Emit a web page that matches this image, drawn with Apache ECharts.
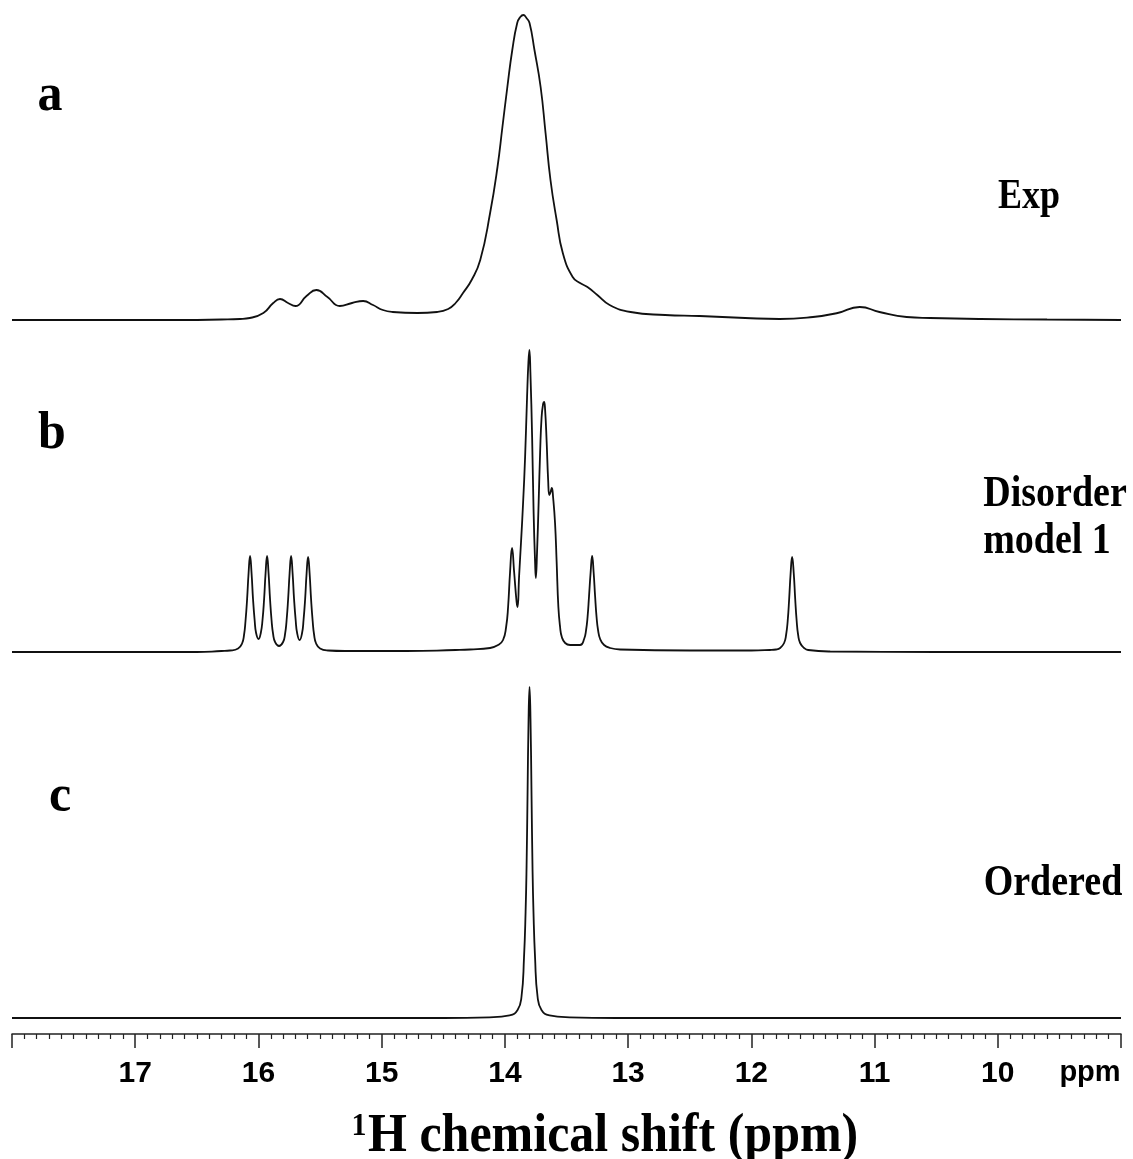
<!DOCTYPE html>
<html>
<head>
<meta charset="utf-8">
<title>1H NMR</title>
<script src="https://cdn.jsdelivr.net/npm/echarts@6/dist/echarts.min.js"></script>
<style>
  html, body {margin: 0; padding: 0; background: #fff;}
  #chart {width: 1133px; height: 1159px;}
</style>
</head>
<body>
<div id="chart"></div>
<script>
// [ppm, intensity], intensity in arbitrary units
let traceExp = [
  [18.00, 0], [16.60, 0], [16.30, 0.5], [16.15, 1], [16.07, 2], [15.96, 7], [15.88, 17], [15.825, 21],
  [15.76, 17], [15.70, 14], [15.61, 24], [15.53, 30], [15.44, 23], [15.34, 14], [15.24, 17], [15.15, 19],
  [15.07, 15], [14.99, 10], [14.91, 8], [14.71, 7], [14.55, 8], [14.46, 11], [14.40, 17], [14.34, 27],
  [14.27, 40], [14.20, 60], [14.12, 107], [14.06, 153], [14.02, 193], [13.98, 233], [13.94, 270],
  [13.90, 297], [13.875, 303], [13.85, 305], [13.825, 302], [13.80, 297], [13.76, 270], [13.71, 233],
  [13.67, 187], [13.63, 140], [13.58, 100], [13.53, 67], [13.45, 43], [13.39, 37], [13.33, 33],
  [13.25, 25], [13.15, 15], [12.98, 8], [12.70, 5], [12.42, 4], [12.05, 2], [11.77, 1], [11.50, 3],
  [11.30, 7], [11.12, 13], [10.96, 8], [10.74, 3], [10.55, 2], [10.14, 1], [9.60, 0.5], [9.00, 0]
];

let traceDisorder = [
  [18.00, 0], [16.50, 0], [16.30, 1], [16.23, 1.5], [16.165, 3.5], [16.133, 8.5], [16.117, 17],
  [16.105, 31], [16.092, 53], [16.080, 79], [16.068, 96], [16.056, 79], [16.044, 53], [16.031, 32],
  [16.019, 19], [15.999, 13], [15.981, 19], [15.967, 32], [15.954, 53], [15.942, 79], [15.930, 96],
  [15.918, 79], [15.906, 53], [15.893, 31], [15.881, 18], [15.865, 10], [15.833, 6], [15.800, 10],
  [15.784, 18], [15.772, 31], [15.759, 53], [15.747, 79], [15.735, 96], [15.723, 79], [15.711, 53],
  [15.698, 32], [15.686, 19], [15.666, 12], [15.646, 19], [15.634, 32], [15.621, 53], [15.609, 79],
  [15.597, 95], [15.585, 79], [15.573, 53], [15.560, 31], [15.548, 17], [15.532, 8.5], [15.500, 3.5],
  [15.435, 1.5], [15.30, 1], [14.80, 1], [14.40, 2], [14.282, 2.5], [14.120, 4], [14.055, 7],
  [14.015, 12], [13.990, 25], [13.974, 45], [13.958, 80], [13.942, 104], [13.925, 80], [13.905, 50],
  [13.897, 45], [13.885, 75], [13.869, 110], [13.852, 150], [13.836, 195], [13.820, 255], [13.809, 290],
  [13.801, 302], [13.793, 280], [13.779, 215], [13.767, 140], [13.755, 90], [13.749, 74], [13.739, 100],
  [13.726, 150], [13.714, 200], [13.702, 235], [13.690, 248], [13.682, 250], [13.674, 243], [13.661, 210],
  [13.649, 172], [13.639, 157], [13.629, 160], [13.619, 164], [13.609, 155], [13.593, 129], [13.580, 90],
  [13.566, 45], [13.552, 25], [13.538, 15], [13.511, 9], [13.471, 7], [13.390, 7], [13.357, 13],
  [13.341, 22], [13.329, 35], [13.317, 56], [13.304, 80], [13.292, 96], [13.280, 80], [13.268, 56],
  [13.256, 35], [13.244, 22], [13.227, 13], [13.195, 7], [13.146, 4], [13.065, 2.5], [12.50, 1.5],
  [12.00, 1.5], [11.85, 2], [11.799, 2.5], [11.766, 4], [11.734, 9], [11.718, 17], [11.705, 31],
  [11.693, 53], [11.681, 79], [11.669, 95], [11.656, 79], [11.644, 53], [11.632, 31], [11.620, 17],
  [11.604, 9], [11.571, 4], [11.539, 2], [11.36, 0.5], [10.50, 0], [9.00, 0]
];

let traceOrdered = [
  [18.00, 0], [14.50, 0], [14.125, 0.7], [13.962, 2.6], [13.897, 8], [13.865, 21.5], [13.845, 60],
  [13.832, 106], [13.824, 152], [13.816, 225], [13.808, 298], [13.800, 331], [13.792, 298],
  [13.784, 225], [13.776, 152], [13.768, 106], [13.755, 60], [13.735, 21.5], [13.703, 8],
  [13.638, 2.6], [13.475, 0.7], [13.10, 0], [9.00, 0]
];

let panelLetters = ['a', 'b', 'c'];
let traceNames = ['Exp', 'Disorder', 'model 1', 'Ordered'];

const lineColor = '#111';
const serif = '"Liberation Serif", "Times New Roman", serif';
const sans = '"Liberation Sans", Arial, sans-serif';

let chart = echarts.init(document.getElementById('chart'), null, {renderer: 'canvas'});

// three stacked panels share the same ppm range
let grids = [
  {left: 12, right: 12, top: 10, height: 315},
  {left: 12, right: 12, top: 342, height: 315},
  {left: 12, right: 12, top: 680, height: 354}
];

function hiddenX(i) {
  return {gridIndex: i, type: 'value', min: 9, max: 18, inverse: true, show: false};
}

function spectrum(data, i) {
  return {
    type: 'line',
    xAxisIndex: i,
    yAxisIndex: i,
    data: data,
    showSymbol: false,
    smooth: 0.5,
    lineStyle: {color: lineColor, width: 1.8},
    silent: true
  };
}

function label(text, x, y, size, sy, align) {
  return {
    type: 'text',
    x: x,
    y: y,
    scaleY: sy,
    silent: true,
    style: {
      text: text,
      font: 'bold ' + size + 'px ' + serif,
      fill: '#000',
      align: align || 'center',
      verticalAlign: 'middle'
    }
  };
}

let option = {
  animation: false,
  backgroundColor: '#fff',
  grid: grids,
  xAxis: [
    hiddenX(0),
    hiddenX(1),
    {
      gridIndex: 2, type: 'value', min: 9, max: 18, interval: 1, inverse: true,
      axisLine: {show: true, onZero: false, lineStyle: {color: '#222', width: 1.5}},
      axisTick: {show: true, length: 14, lineStyle: {color: '#222', width: 1.5}},
      minorTick: {show: true, splitNumber: 10, length: 5, lineStyle: {color: '#222', width: 1.2}},
      splitLine: {show: false},
      axisLabel: {
        margin: 25,
        color: '#000',
        fontSize: 30,
        fontWeight: 'bold',
        fontFamily: sans,
        formatter: function (v) {
          return (v === 18 || v === 9) ? '' : String(v);
        }
      }
    }
  ],
  yAxis: [
    {gridIndex: 0, type: 'value', min: -5, max: 310, show: false},
    {gridIndex: 1, type: 'value', min: -5, max: 310, show: false},
    {gridIndex: 2, type: 'value', min: -16, max: 338, show: false}
  ],
  series: [
    spectrum(traceExp, 0),
    spectrum(traceDisorder, 1),
    spectrum(traceOrdered, 2)
  ],
  graphic: [
    label(panelLetters[0], 50, 96, 50, 1.05),
    label(panelLetters[1], 52, 434, 50, 1.05),
    label(panelLetters[2], 60, 797, 50, 1.05),
    label(traceNames[0], 1029, 197, 36, 1.17),
    label(traceNames[1], 1055, 495, 38, 1.17),
    label(traceNames[2], 1047, 542, 38, 1.17),
    label(traceNames[3], 1053, 884, 38, 1.17),
    // axis unit next to the last tick label
    {
      type: 'text', x: 1090, y: 1073, silent: true,
      style: {text: 'ppm', font: 'bold 29px ' + sans, fill: '#000', align: 'center', verticalAlign: 'middle'}
    },
    // axis title with superscript 1
    label('1', 359, 1127, 30, 1.05),
    label('H chemical shift (ppm)', 368, 1137, 50, 1.08, 'left')
  ]
};

chart.setOption(option);
</script>
</body>
</html>
